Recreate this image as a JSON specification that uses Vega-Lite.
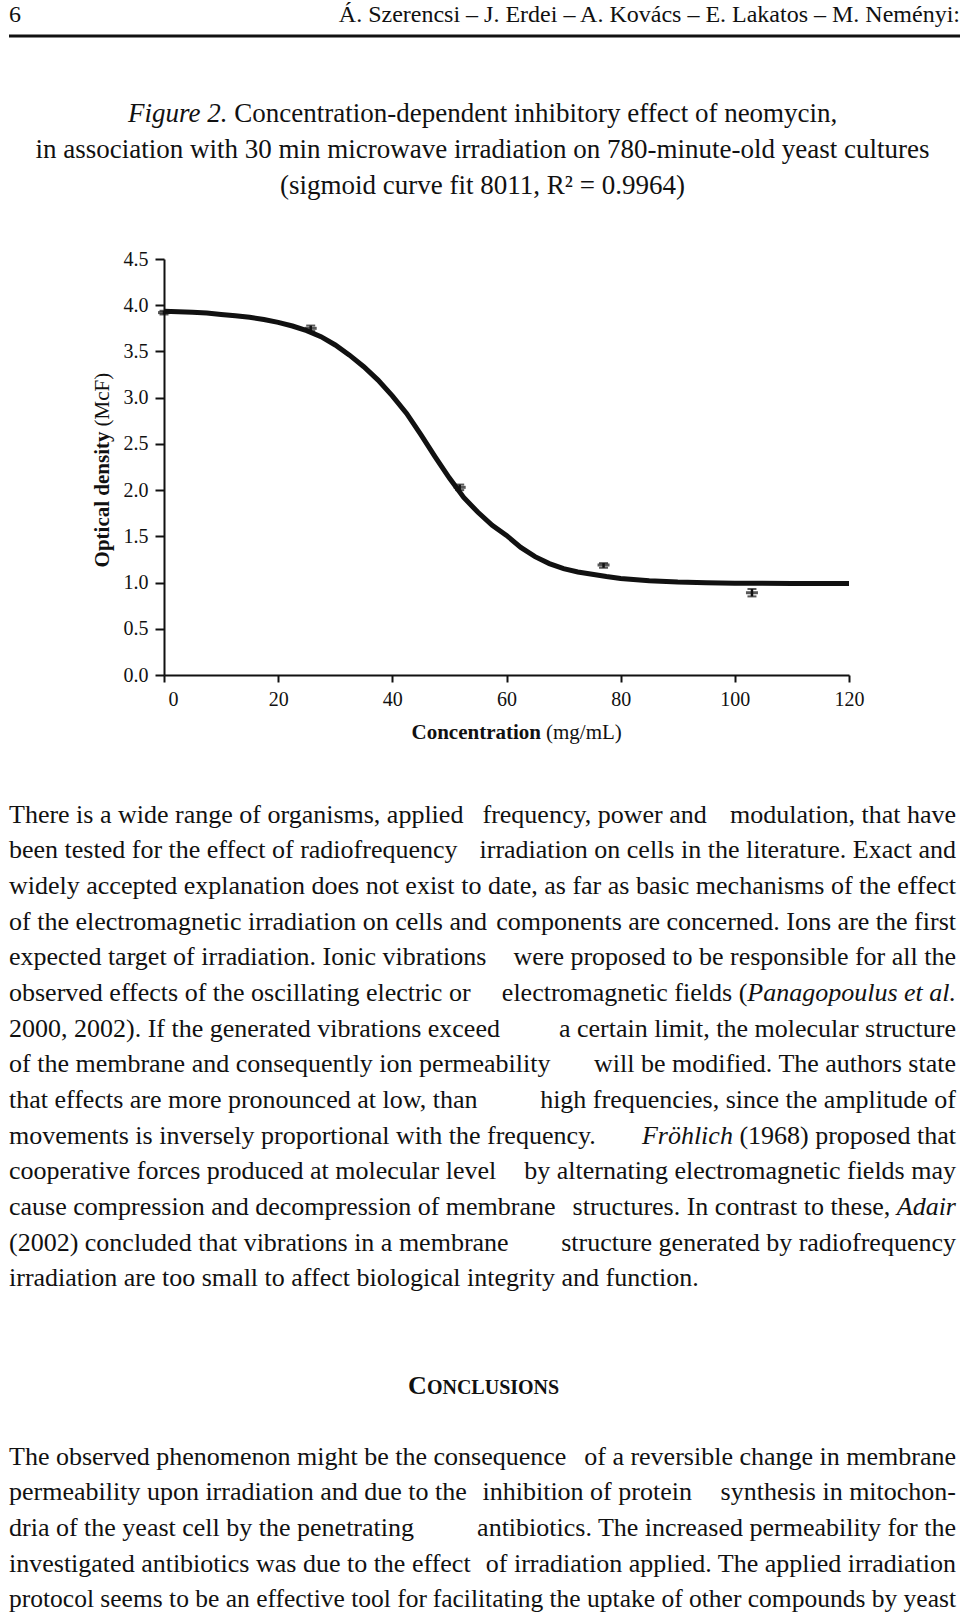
{
  "$schema": "https://vega.github.io/schema/vega-lite/v6.json",
  "background": "white",
  "padding": {"left": 7, "top": 0, "right": 0, "bottom": 0},
  "spacing": 0,
  "bounds": "flush",
  "config": {
    "view": {"stroke": null},
    "font": "Liberation Serif",
    "text": {"font": "Liberation Serif", "color": "#111"},
    "axis": {"labelFont": "Liberation Serif", "grid": false, "domainColor": "#111", "tickColor": "#111", "labelColor": "#111", "domainWidth": 2, "tickWidth": 2}
  },
  "datasets": {
    "page_number": [{"text": "6"}],
    "running_head": [{"text": "Á. Szerencsi – J. Erdei – A. Kovács – E. Lakatos – M. Neményi:"}],
    "caption_centered": [
      {"line": 1, "text": "in association with 30 min microwave irradiation on 780-minute-old yeast cultures"},
      {"line": 2, "text": "(sigmoid curve fit 8011, R² = 0.9964)"}
    ],
    "caption_label": [{"line": 0, "text": "Figure 2."}],
    "caption_rest": [{"line": 0, "text": "Concentration-dependent inhibitory effect of neomycin,"}],
    "y_title_main": [{"text": "Optical density"}],
    "y_title_unit": [{"text": "(McF)"}],
    "x_title_main": [{"text": "Concentration"}],
    "x_title_unit": [{"text": "(mg/mL)"}],
    "fitted_curve": [
      {"concentration": 0, "optical_density": 3.935},
      {"concentration": 2.5, "optical_density": 3.93},
      {"concentration": 5, "optical_density": 3.925},
      {"concentration": 7.5, "optical_density": 3.915},
      {"concentration": 10, "optical_density": 3.9},
      {"concentration": 12.5, "optical_density": 3.885},
      {"concentration": 15, "optical_density": 3.87},
      {"concentration": 17.5, "optical_density": 3.845},
      {"concentration": 20, "optical_density": 3.815},
      {"concentration": 22.5, "optical_density": 3.775},
      {"concentration": 25, "optical_density": 3.725},
      {"concentration": 27.5, "optical_density": 3.66},
      {"concentration": 30, "optical_density": 3.57},
      {"concentration": 32.5, "optical_density": 3.46},
      {"concentration": 35, "optical_density": 3.335},
      {"concentration": 37.5, "optical_density": 3.19},
      {"concentration": 40, "optical_density": 3.02},
      {"concentration": 42.5, "optical_density": 2.83},
      {"concentration": 45, "optical_density": 2.6},
      {"concentration": 47.5, "optical_density": 2.36},
      {"concentration": 50, "optical_density": 2.13},
      {"concentration": 52.5, "optical_density": 1.92},
      {"concentration": 55, "optical_density": 1.76},
      {"concentration": 57.5, "optical_density": 1.62},
      {"concentration": 60, "optical_density": 1.51},
      {"concentration": 62.5, "optical_density": 1.38},
      {"concentration": 65, "optical_density": 1.28},
      {"concentration": 67.5, "optical_density": 1.205},
      {"concentration": 70, "optical_density": 1.15},
      {"concentration": 72.5, "optical_density": 1.115},
      {"concentration": 75, "optical_density": 1.09},
      {"concentration": 77.5, "optical_density": 1.065},
      {"concentration": 80, "optical_density": 1.045},
      {"concentration": 85, "optical_density": 1.02},
      {"concentration": 90, "optical_density": 1.005},
      {"concentration": 95, "optical_density": 0.997},
      {"concentration": 100, "optical_density": 0.993},
      {"concentration": 110, "optical_density": 0.99},
      {"concentration": 120, "optical_density": 0.99}
    ],
    "measured": [
      {"concentration": 0, "optical_density": 3.92, "low": 3.9, "high": 3.94},
      {"concentration": 25.7, "optical_density": 3.75, "low": 3.72, "high": 3.78},
      {"concentration": 51.8, "optical_density": 2.03, "low": 2.0, "high": 2.06},
      {"concentration": 77, "optical_density": 1.19, "low": 1.16, "high": 1.21},
      {"concentration": 103, "optical_density": 0.89, "low": 0.85, "high": 0.93}
    ],
    "body_left": [
      {"line": 0, "text": "There is a wide range of organisms, applied"},
      {"line": 1, "text": "been tested for the effect of radiofrequency"},
      {"line": 2, "text": "widely accepted explanation does not exist"},
      {"line": 3, "text": "of the electromagnetic irradiation on cells and"},
      {"line": 4, "text": "expected target of irradiation. Ionic vibrations"},
      {"line": 5, "text": "observed effects of the oscillating electric or"},
      {"line": 6, "text": "2000, 2002). If the generated vibrations exceed"},
      {"line": 7, "text": "of the membrane and consequently ion permeability"},
      {"line": 8, "text": "that effects are more pronounced at low, than"},
      {"line": 9, "text": "movements is inversely proportional with the frequency."},
      {"line": 10, "text": "cooperative forces produced at molecular level"},
      {"line": 11, "text": "cause compression and decompression of membrane"},
      {"line": 12, "text": "(2002) concluded that vibrations in a membrane"},
      {"line": 13, "text": "irradiation are too small to affect biological integrity and function."},
      {"line": 18, "text": "The observed phenomenon might be the consequence"},
      {"line": 19, "text": "permeability upon irradiation and due to the"},
      {"line": 20, "text": "dria of the yeast cell by the penetrating"},
      {"line": 21, "text": "investigated antibiotics was due to the effect"}
    ],
    "body_middle": [
      {"line": 0, "text": "frequency, power and"},
      {"line": 19, "text": "inhibition of protein"}
    ],
    "body_right": [
      {"line": 0, "text": "modulation, that have"},
      {"line": 1, "text": "irradiation on cells in the literature. Exact and"},
      {"line": 2, "text": "to date, as far as basic mechanisms of the effect"},
      {"line": 3, "text": "components are concerned. Ions are the first"},
      {"line": 4, "text": "were proposed to be responsible for all the"},
      {"line": 6, "text": "a certain limit, the molecular structure"},
      {"line": 7, "text": "will be modified. The authors state"},
      {"line": 8, "text": "high frequencies, since the amplitude of"},
      {"line": 9, "text": "(1968) proposed that"},
      {"line": 10, "text": "by alternating electromagnetic fields may"},
      {"line": 12, "text": "structure generated by radiofrequency"},
      {"line": 18, "text": "of a reversible change in membrane"},
      {"line": 19, "text": "synthesis in mitochon-"},
      {"line": 20, "text": "antibiotics. The increased permeability for the"},
      {"line": 21, "text": "of irradiation applied. The applied irradiation"}
    ],
    "body_tight_left": [{"line": 22, "text": "protocol seems to be an effective tool for"}],
    "body_tight_right": [{"line": 22, "text": "facilitating the uptake of other compounds by yeast"}],
    "body_italic_end": [
      {"line": 5, "text": "Panagopoulus et al."},
      {"line": 11, "text": "Adair"}
    ],
    "body_before_panagopoulus": [{"line": 5, "text": "electromagnetic fields ("}],
    "body_before_adair": [{"line": 11, "text": "structures. In contrast to these,"}],
    "body_italic_frohlich": [{"line": 9, "text": "Fröhlich"}],
    "heading_initial": [{"line": 16, "text": "C"}],
    "heading_rest": [{"line": 16, "text": "ONCLUSIONS"}]
  },
  "vconcat": [
    {
      "width": 951,
      "height": 36,
      "layer": [
        {
          "data": {"name": "page_number"},
          "mark": {"type": "text", "align": "left", "baseline": "middle", "fontSize": 24, "dy": -3},
          "encoding": {"x": {"value": 0}, "text": {"field": "text"}}
        },
        {
          "data": {"name": "running_head"},
          "mark": {"type": "text", "align": "right", "baseline": "middle", "fontSize": 24, "dy": -3},
          "encoding": {"x": {"value": "width"}, "text": {"field": "text"}}
        },
        {
          "data": {"name": "page_number"},
          "mark": {"type": "rule", "color": "#111", "strokeWidth": 3},
          "encoding": {"y": {"value": "height"}}
        }
      ]
    },
    {"width": 951, "height": 59.2, "data": {"values": []}, "mark": "point"},
    {
      "width": 947,
      "height": 108,
      "encoding": {
        "y": {"field": "line", "type": "quantitative", "scale": {"domain": [-0.5, 2.5], "reverse": true, "nice": false, "zero": false}, "axis": null},
        "text": {"field": "text"}
      },
      "layer": [
        {"data": {"name": "caption_centered"}, "mark": {"type": "text", "baseline": "middle", "fontSize": 27}},
        {"data": {"name": "caption_label"}, "mark": {"type": "text", "align": "right", "baseline": "middle", "fontSize": 27, "fontStyle": "italic", "dx": -254.9}},
        {"data": {"name": "caption_rest"}, "mark": {"type": "text", "align": "left", "baseline": "middle", "fontSize": 27, "dx": -248.2}}
      ]
    },
    {"width": 947, "height": 54.3, "data": {"values": []}, "mark": "point"},
    {
      "hconcat": [
        {
          "width": 155,
          "height": 416,
          "layer": [
            {"data": {"name": "y_title_main"}, "mark": {"type": "text", "angle": 270, "align": "right", "baseline": "middle", "fontSize": 21, "fontWeight": "bold", "dx": 35.5, "dy": 16.5}, "encoding": {"text": {"field": "text"}}},
            {"data": {"name": "y_title_unit"}, "mark": {"type": "text", "angle": 270, "align": "left", "baseline": "middle", "fontSize": 21, "dx": 40.5, "dy": 16.5}, "encoding": {"text": {"field": "text"}}}
          ]
        },
        {
          "width": 685,
          "height": 416,
          "encoding": {
            "x": {"field": "concentration", "type": "quantitative", "scale": {"domain": [0, 120], "nice": false, "zero": false},
                  "axis": {"values": [0, 20, 40, 60, 80, 100, 120], "format": "d", "title": null, "tickSize": 7, "labelFontSize": 20, "labelPadding": 7, "labelFlush": false,
                           "labelOffset": {"condition": {"test": "datum.value === 0", "value": 9}, "value": 0}}}
          },
          "layer": [
            {
              "data": {"name": "fitted_curve"},
              "mark": {"type": "line", "color": "#111", "strokeWidth": 5},
              "encoding": {
                "y": {"field": "optical_density", "type": "quantitative", "scale": {"domain": [0, 4.5], "nice": false, "zero": false},
                      "axis": {"values": [0, 0.5, 1, 1.5, 2, 2.5, 3, 3.5, 4, 4.5], "format": ".1f", "title": null, "tickSize": 9, "labelFontSize": 20, "labelPadding": 7}}
              }
            },
            {
              "data": {"name": "measured"},
              "mark": {"type": "rule", "color": "#111", "strokeWidth": 2.5},
              "encoding": {"y": {"field": "low", "type": "quantitative"}, "y2": {"field": "high"}}
            },
            {
              "data": {"name": "measured"},
              "mark": {"type": "tick", "orient": "horizontal", "color": "#111", "thickness": 3, "size": 12},
              "encoding": {"y": {"field": "optical_density", "type": "quantitative"}}
            },
            {
              "data": {"name": "measured"},
              "mark": {"type": "tick", "orient": "horizontal", "color": "#111", "thickness": 2, "size": 9},
              "encoding": {"y": {"field": "low", "type": "quantitative"}}
            },
            {
              "data": {"name": "measured"},
              "mark": {"type": "tick", "orient": "horizontal", "color": "#111", "thickness": 2, "size": 9},
              "encoding": {"y": {"field": "high", "type": "quantitative"}}
            }
          ]
        }
      ],
      "spacing": 0,
      "bounds": "flush"
    },
    {"width": 947, "height": 416, "data": {"values": []}, "mark": "point"},
    {
      "width": 947,
      "height": 121.6,
      "layer": [
        {"data": {"name": "x_title_main"}, "mark": {"type": "text", "align": "right", "baseline": "middle", "fontSize": 21, "fontWeight": "bold", "dx": 58.5, "dy": -3}, "encoding": {"text": {"field": "text"}}},
        {"data": {"name": "x_title_unit"}, "mark": {"type": "text", "align": "left", "baseline": "middle", "fontSize": 21, "dx": 63.5, "dy": -3}, "encoding": {"text": {"field": "text"}}}
      ]
    },
    {
      "width": 947,
      "height": 820,
      "encoding": {
        "y": {"field": "line", "type": "quantitative", "scale": {"domain": [-0.5, 22.5], "reverse": true, "nice": false, "zero": false}, "axis": null},
        "text": {"field": "text"}
      },
      "layer": [
        {"data": {"name": "body_left"}, "mark": {"type": "text", "align": "left", "baseline": "middle", "fontSize": 26}, "encoding": {"x": {"value": 0}}},
        {"data": {"name": "body_middle"}, "mark": {"type": "text", "align": "left", "baseline": "middle", "fontSize": 26}},
        {"data": {"name": "body_right"}, "mark": {"type": "text", "align": "right", "baseline": "middle", "fontSize": 26}, "encoding": {"x": {"value": "width"}}},
        {"data": {"name": "body_tight_left"}, "mark": {"type": "text", "align": "left", "baseline": "middle", "fontSize": 25.5}, "encoding": {"x": {"value": 0}}},
        {"data": {"name": "body_tight_right"}, "mark": {"type": "text", "align": "right", "baseline": "middle", "fontSize": 25.5}, "encoding": {"x": {"value": "width"}}},
        {"data": {"name": "body_italic_end"}, "mark": {"type": "text", "align": "right", "baseline": "middle", "fontSize": 26, "fontStyle": "italic"}, "encoding": {"x": {"value": "width"}}},
        {"data": {"name": "body_before_panagopoulus"}, "mark": {"type": "text", "align": "right", "baseline": "middle", "fontSize": 26, "dx": -208.7}, "encoding": {"x": {"value": "width"}}},
        {"data": {"name": "body_before_adair"}, "mark": {"type": "text", "align": "right", "baseline": "middle", "fontSize": 26, "dx": -65.7}, "encoding": {"x": {"value": "width"}}},
        {"data": {"name": "body_italic_frohlich"}, "mark": {"type": "text", "align": "right", "baseline": "middle", "fontSize": 26, "fontStyle": "italic", "dx": -223.1}, "encoding": {"x": {"value": "width"}}},
        {"data": {"name": "heading_initial"}, "mark": {"type": "text", "align": "right", "baseline": "alphabetic", "fontSize": 26, "fontWeight": "bold", "dx": -55.6, "dy": 8.5}},
        {"data": {"name": "heading_rest"}, "mark": {"type": "text", "align": "left", "baseline": "alphabetic", "fontSize": 20, "fontWeight": "bold", "dx": -55.6, "dy": 8.5}}
      ]
    }
  ]
}
